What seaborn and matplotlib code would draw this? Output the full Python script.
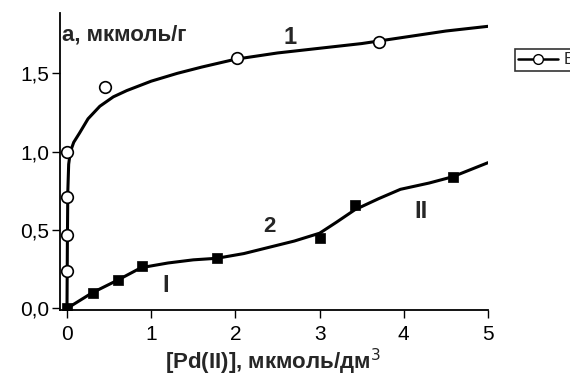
import matplotlib
matplotlib.use("Agg")
import matplotlib.pyplot as plt
from matplotlib.lines import Line2D
import seaborn as sns
import pandas as pd

# measured points, series 1 (open circles)
x1_pts = [0.0, 0.0, 0.0, 0.0, 0.45, 2.02, 3.7]
y1_pts = [0.24, 0.47, 0.71, 1.0, 1.41, 1.60, 1.70]
# fitted curve 1
x1_curve = [0.0, 0.005, 0.01, 0.02, 0.04, 0.08, 0.15, 0.25, 0.39, 0.55, 0.71, 1.0, 1.31,
            1.6, 2.0, 2.5, 3.0, 3.5, 4.0, 4.5, 5.0]
y1_curve = [0.0, 0.45, 0.75, 0.92, 1.0, 1.06, 1.12, 1.21, 1.29, 1.35, 1.39, 1.45, 1.50,
            1.54, 1.59, 1.63, 1.66, 1.69, 1.73, 1.77, 1.80]

# measured points, series 2 (filled squares)
x2_pts = [0.0, 0.31, 0.6, 0.89, 1.78, 3.01, 3.42, 4.58]
y2_pts = [0.0, 0.096, 0.18, 0.27, 0.32, 0.45, 0.66, 0.84]
# fitted curve 2
x2_curve = [0.0, 0.3, 0.6, 0.88, 1.2, 1.5, 1.78, 2.1, 2.4, 2.7, 3.0, 3.2, 3.42, 3.7,
            3.96, 4.3, 4.58, 5.0]
y2_curve = [0.0, 0.1, 0.18, 0.26, 0.29, 0.31, 0.32, 0.35, 0.39, 0.43, 0.48, 0.55, 0.63,
            0.70, 0.76, 0.80, 0.84, 0.93]

x_ticks = [0, 1, 2, 3, 4, 5]
y_ticks = [0.0, 0.5, 1.0, 1.5]
y_tick_labels = ["0,0", "0,5", "1,0", "1,5"]

sns.set_theme(style="ticks")
plt.rcParams["font.family"] = ["Liberation Sans", "DejaVu Sans"]

fig = plt.figure(figsize=(5.7, 3.86), dpi=100)
ax = fig.add_axes([60 / 570, (386 - 310) / 386, (488 - 60) / 570, (310 - 13) / 386])

c1 = pd.DataFrame({"x": x1_curve, "y": y1_curve})
c2 = pd.DataFrame({"x": x2_curve, "y": y2_curve})
p1 = pd.DataFrame({"x": x1_pts, "y": y1_pts})
p2 = pd.DataFrame({"x": x2_pts, "y": y2_pts})

sns.lineplot(data=c1, x="x", y="y", ax=ax, color="black", lw=2.2, sort=False, estimator=None)
sns.lineplot(data=c2, x="x", y="y", ax=ax, color="black", lw=2.2, sort=False, estimator=None)
sns.scatterplot(data=p1, x="x", y="y", ax=ax, marker="o", s=70, facecolor="white",
                edgecolor="black", linewidth=1.2, zorder=5)
sns.scatterplot(data=p2, x="x", y="y", ax=ax, marker="s", s=50, color="black",
                edgecolor="black", linewidth=0.5, zorder=5)

ax.set_xlim(-0.083, 5.0)
ax.set_ylim(-0.01, 1.885)
ax.set_xticks(x_ticks)
ax.set_xticklabels([str(t) for t in x_ticks])
ax.set_yticks(y_ticks)
ax.set_yticklabels(y_tick_labels)
ax.tick_params(axis="both", labelsize=15, length=6, width=1, color="black", labelcolor="black")
ax.tick_params(axis="x", pad=5)
ax.tick_params(axis="y", pad=2)
for s in ["top", "right"]:
    ax.spines[s].set_visible(False)
for s in ["left", "bottom"]:
    ax.spines[s].set_color("black")
    ax.spines[s].set_linewidth(1.3)

ax.set_xlabel("")
ax.set_ylabel("")
fig.text(273 / 570, 1 - 362 / 386, "[Pd(II)], мкмоль/дм$^3$", ha="center", va="center",
         fontsize=16, fontweight="bold")
ax.text(-0.06, 1.745, "a, мкмоль/г", fontsize=16, fontweight="bold", ha="left", va="center")

ax.text(2.65, 1.73, "1", fontsize=17, fontweight="bold", ha="center", va="center")
ax.text(2.40, 0.52, "2", fontsize=16, fontweight="bold", ha="center", va="center")
ax.text(1.17, 0.146, "I", fontsize=17, fontweight="bold", ha="center", va="center")
ax.text(4.21, 0.62, "II", fontsize=17, fontweight="bold", ha="center", va="center")

handle = Line2D([], [], color="black", lw=1.8, marker="o", markersize=7,
                markerfacecolor="white", markeredgecolor="black")
leg = fig.legend([handle], ["B"], loc="upper left", bbox_to_anchor=(515 / 570, 1 - 49 / 386),
                 frameon=True, fontsize=12, handlelength=2.4, borderpad=0.2,
                 handletextpad=0.3, fancybox=False, borderaxespad=0)
leg.get_frame().set_edgecolor("black")
leg.get_frame().set_linewidth(1.2)

fig.savefig("out.png", dpi=100)
